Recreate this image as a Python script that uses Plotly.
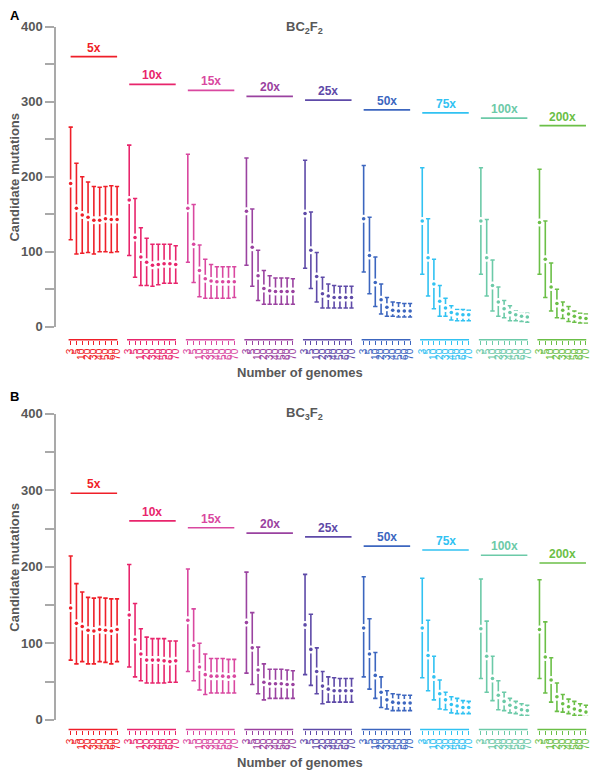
import plotly.graph_objects as go

coverage = ["5x", "10x", "15x", "20x", "25x", "50x", "75x", "100x", "200x"]
genomes = ["3", "5", "10", "20", "30", "40", "50", "60", "70"]
colors = ["#ef1f29", "#e8256c", "#d948a0", "#9a42a0", "#5e4aa8", "#3c66bf",
          "#31c2f2", "#6ccaa8", "#6bbf47"]

# Panel A (BC2F2)
a_mean = [
    [191, 158, 149, 146, 142, 142, 144, 143, 143],
    [169, 119, 93, 86, 82, 83, 84, 84, 83],
    [158, 110, 75, 64, 61, 60, 60, 60, 60],
    [154, 106, 68, 51, 48, 47, 47, 47, 47],
    [151, 102, 67, 44, 41, 39, 39, 39, 39],
    [144, 95, 59, 36, 26, 22, 21, 21, 21],
    [141, 92, 57, 34, 25, 19, 17, 16, 16],
    [141, 92, 55, 33, 24, 19, 16, 14, 13],
    [139, 90, 53, 31, 22, 17, 14, 12, 11],
]
a_upper = [
    [266, 218, 200, 193, 187, 186, 187, 188, 187],
    [242, 171, 132, 118, 110, 110, 110, 110, 108],
    [230, 163, 109, 90, 83, 80, 80, 80, 80],
    [225, 157, 102, 75, 68, 65, 65, 65, 64],
    [222, 153, 99, 66, 57, 55, 54, 54, 54],
    [215, 146, 93, 57, 39, 33, 32, 31, 31],
    [212, 144, 90, 55, 38, 28, 23, 23, 22],
    [212, 143, 89, 53, 35, 28, 21, 18, 18],
    [210, 141, 85, 50, 33, 27, 21, 18, 17],
]
a_lower = [
    [116, 97, 98, 99, 97, 100, 100, 99, 100],
    [95, 66, 55, 55, 54, 56, 58, 58, 58],
    [86, 59, 40, 38, 38, 38, 38, 38, 39],
    [82, 54, 35, 30, 30, 30, 30, 30, 30],
    [78, 51, 33, 25, 25, 25, 25, 25, 25],
    [73, 44, 27, 17, 14, 14, 13, 13, 13],
    [70, 41, 24, 14, 14, 9, 8, 8, 8],
    [70, 41, 21, 14, 12, 8, 8, 7, 6],
    [70, 39, 21, 12, 11, 7, 6, 5, 5],
]
a_label_y = [360, 323, 315, 307, 302, 289, 285, 278, 268]

# Panel B (BC3F2)
b_mean = [
    [146, 126, 122, 117, 116, 118, 117, 116, 118],
    [137, 105, 86, 78, 78, 78, 77, 76, 77],
    [130, 97, 69, 59, 57, 57, 57, 56, 57],
    [127, 94, 65, 49, 47, 47, 47, 46, 46],
    [124, 92, 63, 44, 40, 38, 38, 38, 38],
    [120, 86, 58, 36, 26, 23, 22, 22, 22],
    [120, 84, 56, 34, 26, 20, 18, 16, 16],
    [119, 83, 54, 32, 24, 19, 16, 13, 12],
    [118, 82, 52, 30, 21, 17, 14, 12, 10],
]
b_upper = [
    [214, 178, 167, 160, 159, 160, 159, 158, 158],
    [203, 152, 119, 108, 106, 106, 106, 103, 103],
    [197, 145, 100, 86, 80, 80, 80, 79, 79],
    [193, 140, 95, 73, 66, 66, 66, 65, 64],
    [190, 138, 94, 63, 56, 55, 54, 54, 54],
    [187, 132, 88, 56, 38, 34, 33, 32, 32],
    [185, 130, 83, 52, 36, 30, 28, 25, 24],
    [184, 129, 83, 51, 36, 28, 24, 21, 19],
    [183, 128, 81, 48, 33, 27, 24, 21, 19],
]
b_lower = [
    [78, 73, 76, 73, 73, 76, 75, 73, 76],
    [69, 56, 51, 48, 48, 48, 48, 49, 49],
    [63, 51, 39, 33, 35, 35, 35, 35, 35],
    [61, 46, 34, 26, 28, 28, 28, 28, 28],
    [59, 45, 34, 21, 23, 23, 23, 23, 23],
    [56, 40, 28, 16, 14, 12, 12, 12, 12],
    [55, 38, 26, 14, 13, 9, 8, 8, 8],
    [54, 36, 25, 13, 12, 9, 8, 6, 6],
    [54, 35, 23, 11, 10, 8, 6, 6, 6],
]
b_label_y = [296, 260, 251, 244, 239, 227, 222, 215, 205]

W, H = 600, 782
FONT = "Liberation Sans, Arial, Helvetica, sans-serif"
GRAY_TXT = "#585858"
GRAY_AX = "#a9a9a9"


def X(p):
    return p / W


def Y(p):
    return 1 - p / H


U = 5.87          # px per point inside a group
G0 = 68.3         # px of first point
GS = 59.2         # px between groups

panels = [
    dict(letter="A", title="BC<sub>2</sub>F<sub>2</sub>", mean=a_mean, up=a_upper, lo=a_lower,
         lab=a_label_y, y0=326.0, y1=20.0, axis=339.3, xt=373, lt=9, tt=21),
    dict(letter="B", title="BC<sub>3</sub>F<sub>2</sub>", mean=b_mean, up=b_upper, lo=b_lower,
         lab=b_label_y, y0=726.7, y1=414.7, axis=736.7, xt=770, lt=397, tt=414),
]

fig = go.Figure()
layout = {}
shapes = []
annotations = []

for pi, P in enumerate(panels):
    yname = "y" if pi == 0 else "y2"
    ykey = "yaxis" if pi == 0 else "yaxis2"
    layout[ykey] = dict(
        domain=[Y(P["y0"]), Y(P["y1"])], range=[0, 400], anchor="free", position=X(52.7),
        showline=True, linecolor=GRAY_AX, linewidth=1.5, ticks="outside", ticklen=9,
        tickcolor=GRAY_AX, tickwidth=1.5, tick0=0, dtick=100,
        minor=dict(dtick=50, ticks="outside", ticklen=9, tickcolor=GRAY_AX, tickwidth=1.5),
        tickfont=dict(size=13, color=GRAY_TXT, family=FONT, weight="bold"),
        showgrid=False, zeroline=False)
    for g in range(9):
        k = pi * 9 + g + 1
        xname = "x" if k == 1 else f"x{k}"
        xkey = "xaxis" if k == 1 else f"xaxis{k}"
        col = colors[g]
        start = G0 + g * GS - 0.4 * U
        layout[xkey] = dict(
            domain=[X(start), X(start + 8.8 * U)], range=[-0.4, 8.4], anchor="free",
            position=Y(P["axis"]), showline=False, ticks="outside", ticklen=4,
            tickcolor=col, tickwidth=1, tickvals=list(range(9)), ticktext=genomes,
            tickangle=-90, tickfont=dict(size=10, color=col, family=FONT),
            showgrid=False, zeroline=False)
        m = P["mean"][g]
        up = [u - v for u, v in zip(P["up"][g], m)]
        lo = [v - l for v, l in zip(m, P["lo"][g])]
        fig.add_trace(go.Scatter(
            x=list(range(9)), y=m, xaxis=xname, yaxis=yname, mode="markers",
            marker=dict(color="white", size=8, line=dict(width=0)),
            error_y=dict(type="data", array=up, arrayminus=lo, color=col,
                         thickness=1.6, width=2.2),
            hoverinfo="skip", showlegend=False))
        fig.add_trace(go.Scatter(
            x=list(range(9)), y=m, xaxis=xname, yaxis=yname, mode="markers",
            marker=dict(color=col, size=3.6, line=dict(width=0)),
            showlegend=False))
        # bracket under group
        shapes.append(dict(type="line", xref=xname, yref="paper", x0=-0.38, x1=8.05,
                           y0=Y(P["axis"]), y1=Y(P["axis"]), line=dict(color=col, width=1.5)))
        # coverage label line
        shapes.append(dict(type="line", xref=xname, yref=yname, x0=0, x1=8,
                           y0=P["lab"][g], y1=P["lab"][g], line=dict(color=col, width=1.6)))
        annotations.append(dict(text=f"<b>{coverage[g]}</b>", xref=xname, yref=yname, x=4,
                                y=P["lab"][g], yanchor="bottom", xanchor="center",
                                showarrow=False, yshift=0,
                                font=dict(size=12, color=col, family=FONT)))
    annotations.append(dict(text="<b>Number of genomes</b>", xref="paper", yref="paper",
                            x=X(300), y=Y(P["xt"]), xanchor="center", yanchor="middle",
                            showarrow=False, font=dict(size=13, color=GRAY_TXT, family=FONT)))
    annotations.append(dict(text="<b>Candidate mutations</b>", xref="paper", yref="paper",
                            x=X(12), y=Y((P["y0"] + P["y1"]) / 2), xanchor="center",
                            yanchor="middle", textangle=-90, showarrow=False,
                            font=dict(size=13, color=GRAY_TXT, family=FONT)))
    annotations.append(dict(text=f"<b>{P['letter']}</b>", xref="paper", yref="paper",
                            x=X(12), y=Y(P["lt"]), xanchor="center", yanchor="middle",
                            showarrow=False, font=dict(size=13, color="black", family=FONT)))
    annotations.append(dict(text=f"<b>{P['title']}</b>", xref="paper", yref="paper",
                            x=X(305), y=Y(P["tt"]), xanchor="center", yanchor="middle",
                            showarrow=False, font=dict(size=13, color=GRAY_TXT, family=FONT)))

fig.update_layout(
    width=W, height=H, autosize=False,
    margin=dict(l=0, r=0, t=0, b=0),
    paper_bgcolor="white", plot_bgcolor="white",
    showlegend=False, shapes=shapes, annotations=annotations,
    font=dict(family=FONT),
    **layout)

fig.write_html("out.html", config={"displayModeBar": False},
               post_script="document.body.style.margin='0';document.body.style.padding='0';")
